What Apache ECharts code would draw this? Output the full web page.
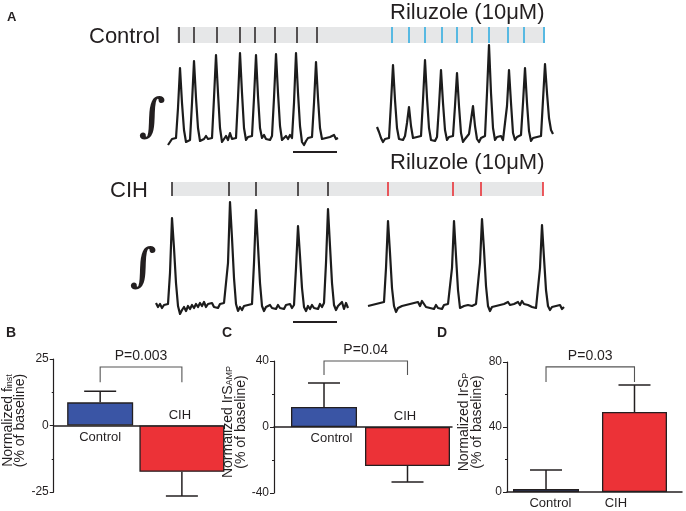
<!DOCTYPE html>
<html><head><meta charset="utf-8">
<script src="https://cdn.jsdelivr.net/npm/echarts@6/dist/echarts.min.js"></script>
<style>html,body{margin:0;padding:0;background:#fff}#c{width:686px;height:511px}</style>
</head><body><div id="c"></div>
<script>
// ===================== DATA =====================
// Integrated traces (a.u.), sampled every traceStep time units
const traceStep = 2;
const ctrlBaseStart = 28;
const ctrlBaseTrace = [3,6,9,7,10,40,80,45,18,6, 4,8,45,87,50,20,7,5,9,12, 9,11,10,50,93,55,20,6,9,12,
  8,15,9,7,10,50,95,55,20,8, 11,9,12,50,93,52,20,10,13,9, 11,8,12,50,94,55,22,8,10,12,
  9,13,10,45,95,55,22,6,3,7, 10,8,11,45,86,50,20,9,7,10, 8,11,9,13,9,10];
const ctrlRilStart = 237;
const ctrlRilTrace = [21,16,10,6,9,7,10,45,83,48, 20,9,11,8,12,25,41,22,10,8, 11,9,12,48,88,50,20,8,10,7,
  11,42,78,45,18,8,11,9,12,42, 75,42,15,6,9,11,14,28,42,22, 9,6,10,8,12,55,103,55,20,8,
  11,9,12,8,10,42,78,45,15,8, 11,9,13,45,80,45,17,7,10,8, 11,9,12,48,84,55,30,18,14];
const cihBaseStart = 16;
const cihBaseTrace = [15,11,14,10,13,11,14,45,100,70, 35,12,4,8,11,7,12,9,13,10, 14,11,15,12,16,11,14,12,15,11,
  13,10,14,12,15,16,55,116,80,40, 14,7,11,8,12,10,13,11,14,55, 108,72,35,12,7,11,9,13,10,12,
  9,13,10,12,9,13,11,14,10,13, 50,92,62,30,11,7,12,9,13,10, 12,9,14,11,15,55,109,72,35,13,
  8,12,10,16,9,15,10];
const cihRilStart = 228;
const cihRilTrace = [12,10,13,11,14,12,15,13,16,50, 97,65,30,12,6,10,8,12,10,13, 11,14,12,15,13,16,12,17,14,11,
  13,10,12,9,13,10,12,9,13,11, 14,16,50,97,62,28,10,8,12,10, 13,11,12,10,14,16,55,99,68,32,
  12,7,11,9,12,10,13,11,14,12, 16,13,11,14,12,16,13,17,14,16, 13,15,11,13,10,12,50,93,60,28,
  12,8,11,9,12,10,13,9,11];

// Event (burst) times on the same time axis
const ctrlBaseEvents = [39,54,77,100,115,135,157,177];
const ctrlRilEvents  = [252,269,285,302,317,332,349,368,384,404];
const cihBaseEvents  = [32,89,116,158,188];
const cihRilEvents   = [248,313,341,403];
const ctrlRecordSpan = [37,405];
const cihRecordSpan  = [32,403];
const scaleBarSpan   = [153,197];
const scaleBarLevel  = -4;

// Bar charts (% of baseline)
const groups   = ['Control','CIH'];
const fInstMean = [8.7,-17.4];  const fInstErr = [4.2,9.1];
const ampMean   = [12.1,-23.6]; const ampErr   = [14.6,9.7];
const periodMean= [1.8,49.2];   const periodErr= [11.7,16.6];
const pLabels   = ['P=0.003','P=0.04','P=0.03'];
const bracketTop  = [22,40,77];
const bracketDrop = [16.3,31.5,67.7];

// ===================== CHART =====================
const ink = '#231f20';
const FF = '"Liberation Sans", Arial, Helvetica, sans-serif';
const BLUE = '#3a55a5', RED = '#ec3237', GRAYBAR = '#e6e7e8', CYAN = '#27aae1', TICKRED = '#e8262c';
const toPairs = (start, arr) => arr.map((v,i)=>[start + i*traceStep, v]);

const chart = echarts.init(document.getElementById('c'), null, {renderer:'canvas'});

const traceX = i => ({type:'value', gridIndex:i, min:0, max:440, show:false});
const hiddenY = (g,min,max) => ({type:'value', gridIndex:g, min, max, show:false});

function spanSeries(gi, span){
  return {type:'custom', xAxisIndex:gi, yAxisIndex:gi, z:1, silent:true,
    data:[[span[0], span[1]]],
    renderItem:(p,api)=>{const a=api.coord([api.value(0),1]), b=api.coord([api.value(1),0]);
      return {type:'rect', shape:{x:a[0],y:a[1],width:b[0]-a[0],height:b[1]-a[1]}, style:{fill:GRAYBAR}};}};
}
function tickSeries(gi, events, color){
  return {type:'custom', xAxisIndex:gi, yAxisIndex:gi, z:2, silent:true,
    data: events.map(t=>[t,0]),
    renderItem:(p,api)=>{const a=api.coord([api.value(0),1]), b=api.coord([api.value(0),0]);
      return {type:'line', shape:{x1:a[0],y1:a[1],x2:b[0],y2:b[1]}, style:{stroke:color,lineWidth:1.5}};}};
}
function traceSeries(gi, start, arr){
  return {type:'line', xAxisIndex:gi, yAxisIndex:gi, showSymbol:false, silent:true, clip:false,
    data: toPairs(start, arr), lineStyle:{color:'#1c1c1c', width:2.2, join:'round'}, animation:false};
}
function scaleSeries(gi){
  return {type:'line', xAxisIndex:gi, yAxisIndex:gi, showSymbol:false, silent:true, clip:false,
    data: scaleBarSpan.map(t=>[t, scaleBarLevel]), lineStyle:{color:ink, width:2}};
}

function yMain(g, min, max, interval, name){
  return {type:'value', gridIndex:g, min, max, interval,
    axisLine:{show:true, onZero:false, lineStyle:{color:ink, width:1.2}},
    axisTick:{show:true, length:4, lineStyle:{color:ink}},
    minorTick:{show:true, splitNumber:2, length:2, lineStyle:{color:ink}},
    splitLine:{show:false},
    axisLabel:{fontFamily:FF, fontSize:12, color:ink, margin:5},
    name, nameLocation:'middle', nameRotate:90, nameGap:24,
    nameTextStyle:{fontFamily:FF, color:ink, align:'center', padding:[0,0,0,10],
      rich:{t:{fontFamily:FF, fontSize:14, lineHeight:12.5, color:ink},
            s:{fontFamily:FF, fontSize:9, lineHeight:12.5, color:ink, verticalAlign:'bottom'}}}};
}
function xGroup(g, min, max, showLine, labelPos, labelText){
  return {type:'value', gridIndex:g, min, max, position:'bottom',
    axisLine:{show:showLine, onZero:true, lineStyle:{color:ink, width:1.5}},
    axisTick:{show:false}, splitLine:{show:false},
    axisLabel:{show:labelText!=null, margin:5, customValues:[labelPos==null?0:labelPos], formatter:()=>labelText,
      fontFamily:FF, fontSize:13, color:ink}};
}
function barSeries(xi, yi, x, v, w, color){
  return {type:'bar', xAxisIndex:xi, yAxisIndex:yi, barWidth:w, z:3, silent:true,
    data:[[x, v]], itemStyle:{color, borderColor:ink, borderWidth:1.3}};
}
function errSeries(xi, yi, means, errs){
  return {type:'custom', xAxisIndex:xi, yAxisIndex:yi, z:1, silent:true, clip:false,
    data: means.map((m,i)=>[i, m, errs[i]]),
    renderItem:(p,api)=>{const x=api.value(0), m=api.value(1), e=api.value(2);
      const end = m>=0 ? m+e : m-e;
      const a=api.coord([x,m]), b=api.coord([x,end]);
      const st={stroke:ink, lineWidth:1.5};
      return {type:'group', children:[
        {type:'line', shape:{x1:a[0],y1:a[1],x2:b[0],y2:b[1]}, style:st},
        {type:'line', shape:{x1:b[0]-16,y1:b[1],x2:b[0]+16,y2:b[1]}, style:st}]};}};
}
function bracketSeries(xi, yi, k){
  return {type:'custom', xAxisIndex:xi, yAxisIndex:yi, z:1, silent:true, clip:false,
    data:[[0, 1, bracketTop[k], bracketDrop[k]]],
    renderItem:(p,api)=>{const x0=api.value(0), x1=api.value(1), t=api.value(2), d=api.value(3);
      const a=api.coord([x0,d]), b=api.coord([x0,t]), c=api.coord([x1,t]), e=api.coord([x1,d]);
      return {type:'group', children:[
        {type:'polyline', shape:{points:[a,b,c,e]}, style:{stroke:'#555', lineWidth:1.1, fill:null}},
        {type:'text', x:(b[0]+c[0])/2, y:b[1]-4, style:{text:pLabels[k], font:'14px '+FF, fill:ink, align:'center', verticalAlign:'bottom'}}]};}};
}
// group names written next to the zero line: Control below it, CIH above it
function groupNameSeries(xi, yi, ctrlPos, cihPos){
  return {type:'custom', xAxisIndex:xi, yAxisIndex:yi, z:4, silent:true, clip:false,
    data:[[ctrlPos, 0, 0],[cihPos, 0, 1]],
    renderItem:(p,api)=>{const c=api.coord([api.value(0), api.value(1)]); const above=api.value(2)===1;
      return {type:'text', x:c[0], y: above ? c[1]-4 : c[1]+5,
        style:{text:groups[p.dataIndex], font:'13px '+FF, fill:ink, align:'center', verticalAlign: above?'bottom':'top'}};}};
}

const option = {
  animation:false,
  backgroundColor:'#fff',
  grid:[
    {left:140, width:440, top:27, height:16},
    {left:140, width:440, top:40, height:116},
    {left:140, width:440, top:182, height:14},
    {left:140, width:440, top:195, height:131},
    {left:48, top:359, width:175, height:133},
    {left:274, top:361, width:178, height:132},
    {left:507, top:362, width:175, height:130}
  ],
  xAxis:[
    traceX(0), traceX(1), traceX(2), traceX(3),
    xGroup(4, -0.568, 1.503, true, null, null),
    xGroup(4, -0.568, 1.503, false, null, null),
    xGroup(5, -0.599, 1.533, true, null, null),
    xGroup(5, -0.599, 1.533, false, null, null),
    xGroup(6, -0.441, 1.537, true, 0.05, groups[0]),
    xGroup(6, -0.441, 1.537, false, 0.79, groups[1])
  ],
  yAxis:[
    hiddenY(0,0,1), hiddenY(1,-8,108), hiddenY(2,0,1), hiddenY(3,-8,123),
    yMain(4,-25,25,25,'{t|Normalized f}{s|inst}\n{t|(% of baseline)}'),
    yMain(5,-40,40,40,'{t|Normalized IrS}{s|AMP}\n{t|(% of baseline)}'),
    yMain(6,0,80,40,'{t|Normalized IrS}{s|P}\n{t|(% of baseline)}')
  ],
  series:[
    spanSeries(0, ctrlRecordSpan), tickSeries(0, ctrlBaseEvents, ink), tickSeries(0, ctrlRilEvents, CYAN),
    spanSeries(2, cihRecordSpan), tickSeries(2, cihBaseEvents, ink), tickSeries(2, cihRilEvents, TICKRED),
    traceSeries(1, ctrlBaseStart, ctrlBaseTrace), traceSeries(1, ctrlRilStart, ctrlRilTrace), scaleSeries(1),
    traceSeries(3, cihBaseStart, cihBaseTrace), traceSeries(3, cihRilStart, cihRilTrace), scaleSeries(3),
    barSeries(4,4,0,fInstMean[0],66,BLUE), barSeries(5,4,1,fInstMean[1],85,RED),
    errSeries(4,4,fInstMean,fInstErr), bracketSeries(4,4,0), groupNameSeries(4,4,0,0.976),
    barSeries(6,5,0,ampMean[0],66,BLUE), barSeries(7,5,1,ampMean[1],85,RED),
    errSeries(6,5,ampMean,ampErr), bracketSeries(6,5,1), groupNameSeries(6,5,0.09,0.97),
    barSeries(8,6,0,periodMean[0],66,BLUE), barSeries(9,6,1,periodMean[1],65,RED),
    errSeries(8,6,periodMean,periodErr), bracketSeries(8,6,2)
  ],
  graphic:[
    {type:'text', x:7, y:11, style:{text:'A', font:'bold 13px '+FF, fill:ink}},
    {type:'text', x:6, y:326, style:{text:'B', font:'bold 14px '+FF, fill:ink}},
    {type:'text', x:222, y:326, style:{text:'C', font:'bold 14px '+FF, fill:ink}},
    {type:'text', x:437, y:326, style:{text:'D', font:'bold 14px '+FF, fill:ink}},
    {type:'text', x:89, y:37, style:{text:'Control', font:'22px '+FF, fill:ink, verticalAlign:'middle'}},
    {type:'text', x:390, y:13, style:{text:'Riluzole (10\u03bcM)', font:'22px '+FF, fill:ink, verticalAlign:'middle'}},
    {type:'text', x:110, y:191, style:{text:'CIH', font:'22px '+FF, fill:ink, verticalAlign:'middle'}},
    {type:'text', x:390, y:163, style:{text:'Riluzole (10\u03bcM)', font:'22px '+FF, fill:ink, verticalAlign:'middle'}},
    {type:'text', x:152, y:119, style:{text:'\u222b', font:'bold 46px "DejaVu Serif", "Liberation Serif", serif', fill:ink, align:'center', verticalAlign:'middle'}},
    {type:'text', x:143, y:269, style:{text:'\u222b', font:'bold 46px "DejaVu Serif", "Liberation Serif", serif', fill:ink, align:'center', verticalAlign:'middle'}}
  ]
};
chart.setOption(option);
</script>
</body></html>
